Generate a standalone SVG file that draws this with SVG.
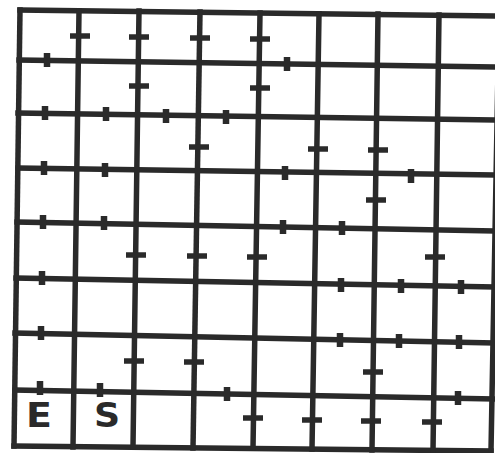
<svg xmlns="http://www.w3.org/2000/svg" width="495" height="453" viewBox="0 0 495 453">
<style>
.g{stroke:#2a2a2a;stroke-width:5.5;stroke-linecap:square;fill:none}
.th{stroke:#2a2a2a;stroke-width:5.5;stroke-linecap:butt}
.tv{stroke:#2a2a2a;stroke-width:6.5;stroke-linecap:butt}
.lbl{font-family:"DejaVu Sans","Liberation Sans",sans-serif;font-weight:bold;font-size:33px;fill:#2a2a2a;text-anchor:middle}
</style>
<rect width="495" height="453" fill="#ffffff"/>
<g id="grid" class="g">
<line x1="20" y1="10" x2="499" y2="16"/>
<line x1="19" y1="60" x2="499" y2="67"/>
<line x1="18" y1="113" x2="499" y2="120"/>
<line x1="18" y1="168" x2="499" y2="175"/>
<line x1="17" y1="222" x2="498" y2="231"/>
<line x1="16" y1="278" x2="497" y2="287"/>
<line x1="15" y1="333" x2="496" y2="343"/>
<line x1="15" y1="390" x2="495" y2="399"/>
<line x1="14" y1="446" x2="491" y2="451"/>
<line x1="20" y1="10" x2="14" y2="446"/>
<line x1="79" y1="11" x2="73" y2="447"/>
<line x1="139" y1="11" x2="133" y2="447"/>
<line x1="200" y1="12" x2="193" y2="448"/>
<line x1="260" y1="13" x2="253" y2="448"/>
<line x1="319" y1="14" x2="312" y2="449"/>
<line x1="378" y1="14" x2="372" y2="450"/>
<line x1="439" y1="15" x2="433" y2="451"/>
<line x1="499" y1="16" x2="491" y2="451"/>
</g>
<g id="ticks-on-verticals" class="th">
<line x1="70" y1="36" x2="90" y2="36"/>
<line x1="129" y1="37" x2="149" y2="37"/>
<line x1="190" y1="38" x2="210" y2="38"/>
<line x1="250" y1="39" x2="270" y2="39"/>
<line x1="129" y1="86" x2="149" y2="86"/>
<line x1="250" y1="88" x2="270" y2="88"/>
<line x1="189" y1="147" x2="209" y2="147"/>
<line x1="308" y1="149" x2="328" y2="149"/>
<line x1="368" y1="150" x2="388" y2="150"/>
<line x1="366" y1="200" x2="386" y2="200"/>
<line x1="126" y1="255" x2="146" y2="255"/>
<line x1="187" y1="256" x2="207" y2="256"/>
<line x1="247" y1="257" x2="267" y2="257"/>
<line x1="425" y1="257" x2="445" y2="257"/>
<line x1="124" y1="361" x2="144" y2="361"/>
<line x1="184" y1="362" x2="204" y2="362"/>
<line x1="363" y1="372" x2="383" y2="372"/>
<line x1="243" y1="418" x2="263" y2="418"/>
<line x1="302" y1="420" x2="322" y2="420"/>
<line x1="361" y1="421" x2="381" y2="421"/>
<line x1="422" y1="422" x2="442" y2="422"/>
</g>
<g id="ticks-on-horizontals" class="tv">
<line x1="47" y1="53" x2="47" y2="67"/>
<line x1="287" y1="57" x2="287" y2="71"/>
<line x1="45" y1="106" x2="45" y2="120"/>
<line x1="106" y1="107" x2="106" y2="121"/>
<line x1="166" y1="109" x2="166" y2="123"/>
<line x1="226" y1="110" x2="226" y2="124"/>
<line x1="44" y1="161" x2="44" y2="175"/>
<line x1="105" y1="163" x2="105" y2="177"/>
<line x1="285" y1="166" x2="285" y2="180"/>
<line x1="411" y1="169" x2="411" y2="183"/>
<line x1="43" y1="215" x2="43" y2="229"/>
<line x1="104" y1="216" x2="104" y2="230"/>
<line x1="283" y1="220" x2="283" y2="234"/>
<line x1="342" y1="221" x2="342" y2="235"/>
<line x1="42" y1="271" x2="42" y2="285"/>
<line x1="341" y1="278" x2="341" y2="292"/>
<line x1="401" y1="279" x2="401" y2="293"/>
<line x1="461" y1="280" x2="461" y2="294"/>
<line x1="41" y1="326" x2="41" y2="340"/>
<line x1="340" y1="333" x2="340" y2="347"/>
<line x1="399" y1="334" x2="399" y2="348"/>
<line x1="459" y1="335" x2="459" y2="349"/>
<line x1="40" y1="381" x2="40" y2="395"/>
<line x1="100" y1="383" x2="100" y2="397"/>
<line x1="227" y1="387" x2="227" y2="401"/>
<line x1="458" y1="391" x2="458" y2="405"/>
</g>
<g id="labels">
<text class="lbl" transform="translate(39,427) scale(1.15,1)">E</text>
<text class="lbl" transform="translate(107,427) scale(1.1,1)">S</text>
</g>
</svg>
